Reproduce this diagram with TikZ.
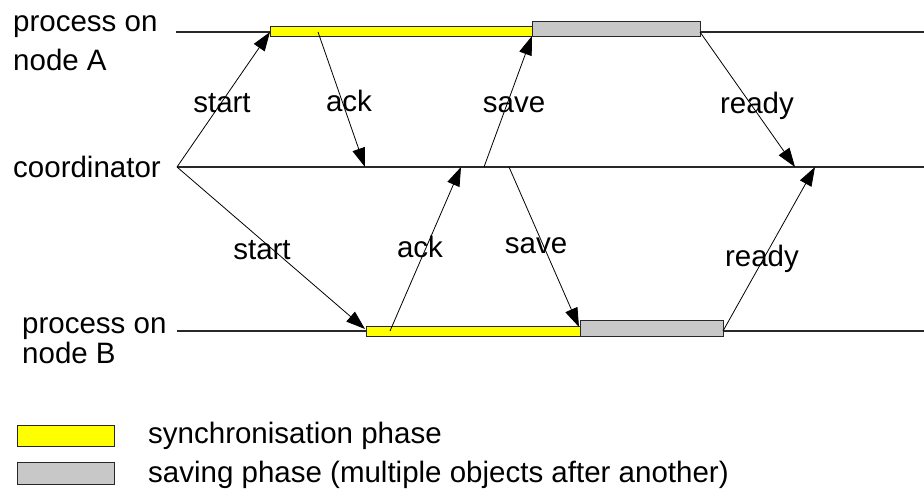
\documentclass[tikz,border=0pt]{standalone}
\usepackage{fontspec}
\setmainfont{Liberation Sans}
\usetikzlibrary{arrows.meta}
\definecolor{syncyellow}{RGB}{255,255,0}
\definecolor{savegray}{RGB}{200,200,200}
\definecolor{edgegray}{RGB}{40,40,40}
\begin{document}
\begin{tikzpicture}[x=1pt,y=-1pt,
  timeline/.style={draw=edgegray,line width=1.1pt},
  syncbar/.style={draw=edgegray,line width=1pt,fill=syncyellow},
  savebar/.style={draw=edgegray,line width=1pt,fill=savegray},
  msg/.style={draw=black,line width=0.8pt,-{Triangle[length=19pt,width=13pt]}},
  txt/.style={inner sep=0pt,font=\fontsize{29.5}{35}\selectfont},
  lbl/.style={txt,anchor=base},
  side/.style={txt,anchor=base west}]
\useasboundingbox (0,0) rectangle (924,489);
\fill[white] (0,0) rectangle (924,489);

% time lines
\coordinate (A0) at (176,32);  \coordinate (A1) at (924,32);
\coordinate (C0) at (177,167); \coordinate (C1) at (924,167);
\coordinate (B0) at (177,331); \coordinate (B1) at (924,331);
\draw[timeline] (A0) -- (A1);
\draw[timeline] (C0) -- (C1);
\draw[timeline] (B0) -- (B1);

% phase bars
\draw[syncbar] (270,27) rectangle (532,37);
\draw[savebar] (532,22) rectangle (700,37);
\draw[syncbar] (366,326) rectangle (580,336);
\draw[savebar] (580,320) rectangle (723,336);

% message end points
\coordinate (sA) at (270,32);
\coordinate (sB) at (365,329);
\coordinate (kA0) at (318,32);  \coordinate (kA1) at (365,167);
\coordinate (kB0) at (390,331); \coordinate (kB1) at (461,167);
\coordinate (vA0) at (484,167); \coordinate (vA1) at (532,36);
\coordinate (vB0) at (509,167); \coordinate (vB1) at (579,327);
\coordinate (rA0) at (700,32);  \coordinate (rA1) at (795,167);
\coordinate (rB0) at (723,331); \coordinate (rB1) at (815,167);

% messages
\draw[msg] (C0) -- (sA);
\draw[msg] (C0) -- (sB);
\draw[msg] (kA0) -- (kA1);
\draw[msg] (kB0) -- (kB1);
\draw[msg] (vA0) -- (vA1);
\draw[msg] (vB0) -- (vB1);
\draw[msg] (rA0) -- (rA1);
\draw[msg] (rB0) -- (rB1);

% message labels
\node[lbl] (lsA) at (222,113) {start};
\node[lbl] (lkA) at (349,112) {ack};
\node[lbl] (lvA) at (514,113) {save};
\node[lbl] (lrA) at (757,114) {ready};
\node[lbl] (lsB) at (262,259) {start};
\node[lbl] (lkB) at (420,258) {ack};
\node[lbl] (lvB) at (536,254) {save};
\node[lbl] (lrB) at (762,267) {ready};

% process names
\node[side] (pA1) at (13,32) {process on};
\node[side] (pA2) at (13,71) {node A};
\node[side] (co)  at (13,178) {coordinator};
\node[side] (pB1) at (22,333) {process on};
\node[side] (pB2) at (22,363) {node B};

% legend
\node[syncbar,minimum width=97pt,minimum height=21pt,inner sep=0pt] (ky) at (65.5,435.5) {};
\node[savebar,minimum width=97pt,minimum height=22pt,inner sep=0pt] (kg) at (65.5,473) {};
\node[side] (ty) at (148,443) {synchronisation phase};
\node[side] (tg) at (148,482) {saving phase (multiple objects after another)};
\end{tikzpicture}
\end{document}
